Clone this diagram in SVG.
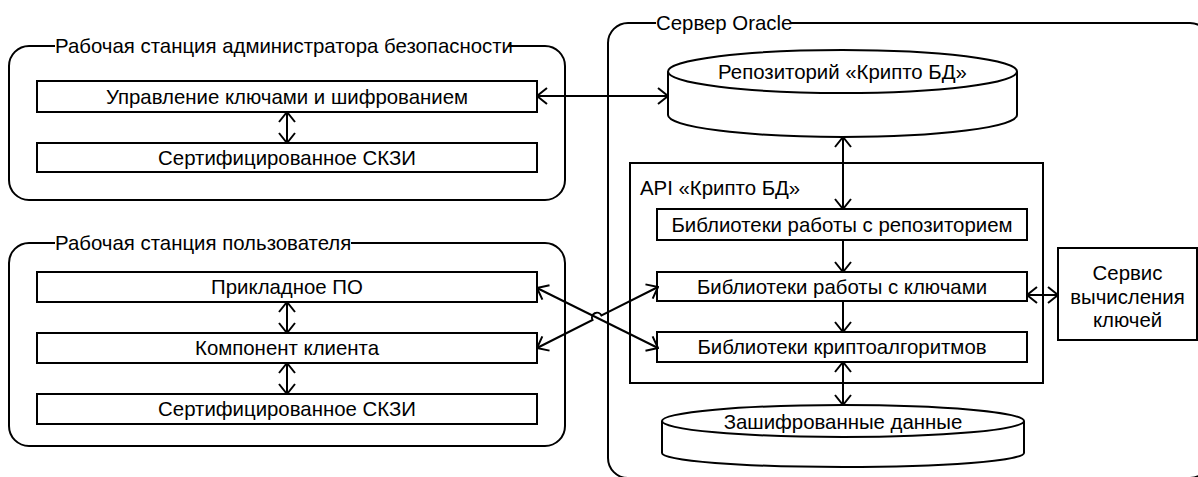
<svg xmlns="http://www.w3.org/2000/svg" width="1198" height="477" viewBox="0 0 1198 477">
<defs>
<style>
.b{fill:#fff;stroke:#000;stroke-width:2}
.o{fill:none;stroke:#000;stroke-width:2}
.t{font-family:"Liberation Sans",Arial,sans-serif;font-size:20.4px;fill:#000;dominant-baseline:central}
.m{text-anchor:middle}
.c{fill:none;stroke:#000;stroke-width:2}
</style>
<marker id="ar" viewBox="0 0 12 18" refX="11" refY="9" markerWidth="12" markerHeight="18" markerUnits="userSpaceOnUse" orient="auto-start-reverse">
<path d="M1,1 L11,9 L1,17" fill="none" stroke="#000" stroke-width="2"/>
</marker>
</defs>
<rect width="1198" height="477" fill="#fff"/>

<g id="admin-station">
<path class="o" d="M55,46 L29,46 A20,20 0 0 0 9,66 L9,180 A20,20 0 0 0 29,200 L545,200 A20,20 0 0 0 565,180 L565,66 A20,20 0 0 0 545,46 L508,46"/>
<text class="t" x="55" y="46">Рабочая станция администратора безопасности</text>
</g>
<g id="key-mgmt">
<rect class="b" x="37" y="81" width="500" height="31"/>
<text class="t m" x="287" y="96.5">Управление ключами и шифрованием</text>
</g>
<g id="admin-skzi">
<rect class="b" x="37" y="143" width="500" height="29"/>
<text class="t m" x="287" y="157.5">Сертифицированное СКЗИ</text>
</g>

<g id="user-station">
<path class="o" d="M55,243 L29,243 A20,20 0 0 0 9,263 L9,426 A20,20 0 0 0 29,446 L545,446 A20,20 0 0 0 565,426 L565,263 A20,20 0 0 0 545,243 L351,243"/>
<text class="t" x="55" y="243">Рабочая станция пользователя</text>
</g>
<g id="app-software">
<rect class="b" x="37" y="272" width="500" height="30"/>
<text class="t m" x="287" y="287">Прикладное ПО</text>
</g>
<g id="client-component">
<rect class="b" x="37" y="333" width="500" height="30"/>
<text class="t m" x="287" y="348">Компонент клиента</text>
</g>
<g id="user-skzi">
<rect class="b" x="37" y="394" width="500" height="30"/>
<text class="t m" x="287" y="409">Сертифицированное СКЗИ</text>
</g>

<g id="oracle-server">
<path class="o" d="M656,23 L628,23 A20,20 0 0 0 608,43 L608,458 A20,20 0 0 0 628,478 L1190,478 A20,20 0 0 0 1210,458 L1210,43 A20,20 0 0 0 1190,23 L791,23"/>
<text class="t" x="656" y="23">Сервер Oracle</text>
</g>
<g id="repository">
<path class="b" d="M668,71.5 L668,115 A174.5,22 0 0 0 1017,115 L1017,71.5"/>
<ellipse class="b" cx="842.5" cy="71.5" rx="174.5" ry="21.5"/>
<text class="t m" x="842.5" y="72">Репозиторий «Крипто БД»</text>
</g>
<g id="api">
<rect class="o" x="630" y="163" width="413" height="220"/>
<text class="t" x="640" y="188">API «Крипто БД»</text>
</g>
<g id="lib-repo">
<rect class="b" x="657" y="209" width="370" height="31"/>
<text class="t m" x="842" y="224.5">Библиотеки работы с репозиторием</text>
</g>
<g id="lib-keys">
<rect class="b" x="657" y="272" width="370" height="29"/>
<text class="t m" x="842" y="286.5">Библиотеки работы с ключами</text>
</g>
<g id="lib-crypto">
<rect class="b" x="657" y="332" width="370" height="30"/>
<text class="t m" x="842" y="347">Библиотеки криптоалгоритмов</text>
</g>
<g id="key-service">
<rect class="b" x="1058" y="248" width="139" height="92"/>
<text class="t m" x="1127.5" y="273">Сервис</text>
<text class="t m" x="1127.5" y="297">вычисления</text>
<text class="t m" x="1127.5" y="320">ключей</text>
</g>
<g id="encrypted-data">
<path class="b" d="M662,421 L662,453 A181,14 0 0 0 1024,453 L1024,421"/>
<ellipse class="b" cx="843" cy="421" rx="181" ry="16"/>
<text class="t m" x="843" y="422">Зашифрованные данные</text>
</g>

<g id="connectors">
<path class="c" d="M537,96 L668,96" marker-start="url(#ar)" marker-end="url(#ar)"/>
<path class="c" d="M287,112 L287,143" marker-start="url(#ar)" marker-end="url(#ar)"/>
<path class="c" d="M287,302 L287,333" marker-start="url(#ar)" marker-end="url(#ar)"/>
<path class="c" d="M287,363 L287,394" marker-start="url(#ar)" marker-end="url(#ar)"/>
<path class="c" d="M537,288 L658,348" marker-start="url(#ar)" marker-end="url(#ar)"/>
<path class="c" d="M537,348 L592.5,320 A5,5 0 0 1 601.5,315.5 L658,287" marker-start="url(#ar)" marker-end="url(#ar)"/>
<path class="c" d="M843,137 L843,209" marker-start="url(#ar)" marker-end="url(#ar)"/>
<path class="c" d="M843,240 L843,272" marker-end="url(#ar)"/>
<path class="c" d="M843,301 L843,332" marker-end="url(#ar)"/>
<path class="c" d="M843,362 L843,405" marker-start="url(#ar)" marker-end="url(#ar)"/>
<path class="c" d="M1027,295 L1058,295" marker-start="url(#ar)" marker-end="url(#ar)"/>
</g>
</svg>
